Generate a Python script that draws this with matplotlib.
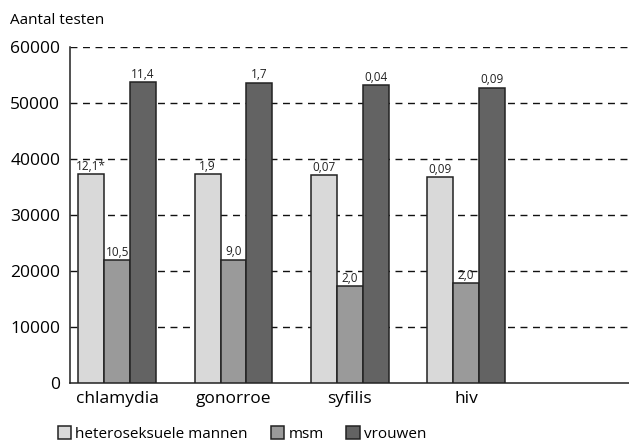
import numpy as np
import matplotlib.pyplot as plt

plt.rcParams['font.family'] = ['Open Sans', 'DejaVu Sans']

# data
categories = ["chlamydia", "gonorroe", "syfilis", "hiv"]
groups = ["heteroseksuele mannen", "msm", "vrouwen"]
hetero = [37300, 37300, 37100, 36800]
msm = [21950, 22000, 17300, 17850]
vrouwen = [53750, 53600, 53200, 52700]
hetero_lbl = ["12,1*", "1,9", "0,07", "0,09"]
msm_lbl = ["10,5", "9,0", "2,0", "2,0"]
vrouwen_lbl = ["11,4", "1,7", "0,04", "0,09"]
colors = ["#d9d9d9", "#9a9a9a", "#636363"]

fig = plt.figure(figsize=(6.29, 4.46), dpi=100)
ax = fig.add_axes([70/629, 1 - 383/446, 1 - 70/629, (383 - 47)/446])

x = np.arange(len(categories))
w = 0.222
series = [hetero, msm, vrouwen]
labels = [hetero_lbl, msm_lbl, vrouwen_lbl]
for k, (vals, lbls) in enumerate(zip(series, labels)):
    pos = x + (k - 1) * w
    ax.bar(pos, vals, width=w, color=colors[k], edgecolor="#222222",
           linewidth=1.1, zorder=3, label=groups[k])
    for px, v, t in zip(pos, vals, lbls):
        ax.text(px, v + 250, t, ha="center", va="bottom", fontsize=8.5,
                color="#222222", zorder=4)

ax.set_xlim(-0.405, 4.4)
ax.set_ylim(0, 60000)
ax.set_yticks(range(0, 60001, 10000))
ax.set_yticklabels([str(v) for v in range(0, 60001, 10000)], fontsize=12.5)
ax.set_xticks(x)
ax.set_xticklabels(categories, fontsize=12.5)
ax.tick_params(axis="both", length=0, pad=7)
ax.tick_params(axis="x", pad=6)

for yv in range(10000, 60001, 10000):
    ax.axhline(yv, color="#111111", linestyle=(0, (5, 4)), linewidth=1.0, zorder=1)

for s in ["top", "right"]:
    ax.spines[s].set_visible(False)
ax.spines["left"].set_color("#222222")
ax.spines["bottom"].set_color("#222222")
ax.spines["left"].set_linewidth(1.1)
ax.spines["bottom"].set_linewidth(1.1)

fig.text(10/629, 1 - 20/446, "Aantal testen", fontsize=11, ha="left", va="center")

ax.legend(loc="center left", bbox_to_anchor=(-0.022, -0.152), ncol=3, frameon=False,
          fontsize=11, handlelength=0.9, handleheight=0.9, handletextpad=0.25,
          columnspacing=1.5, borderaxespad=0, borderpad=0)

fig.savefig("out.png", dpi=100)
